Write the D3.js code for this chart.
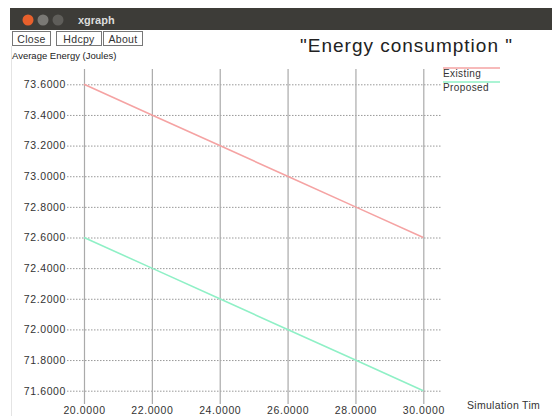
<!DOCTYPE html>
<html>
<head>
<meta charset="utf-8">
<script src="https://cdn.jsdelivr.net/npm/d3@7"></script>
<style>
  body { margin: 0; background: #fff; }
  svg { display: block; font-family: "Liberation Sans", Arial, sans-serif; }
</style>
</head>
<body>
<svg id="chart" width="552" height="416"></svg>
<script>
// data
const simTime = [20, 22, 24, 26, 28, 30];
const existing = [73.6, 73.4, 73.2, 73.0, 72.8, 72.6];
const proposed = [72.6, 72.4, 72.2, 72.0, 71.8, 71.6];
const yTicks = [73.6, 73.4, 73.2, 73.0, 72.8, 72.6, 72.4, 72.2, 72.0, 71.8, 71.6];
const seriesNames = ["Existing", "Proposed"];
const seriesColors = ["#f5a3a3", "#8ff0c6"];

const svg = d3.select("#chart");

// window chrome
svg.append("rect").attr("x", 10).attr("y", 8).attr("width", 542).attr("height", 22).attr("fill", "#3d3c38");
svg.append("circle").attr("cx", 28).attr("cy", 20).attr("r", 5.5).attr("fill", "#e8602c");
svg.append("circle").attr("cx", 43).attr("cy", 20).attr("r", 5.5).attr("fill", "#7a7975");
svg.append("circle").attr("cx", 58).attr("cy", 20).attr("r", 5.5).attr("fill", "#5f5e5a");
svg.append("text").attr("x", 78).attr("y", 24).attr("fill", "#dcdcdc")
  .style("font-size", "11px").style("font-weight", "bold").text("xgraph");
svg.append("line").attr("x1", 11.5).attr("x2", 11.5).attr("y1", 46).attr("y2", 416)
  .attr("stroke", "#e4e4e4");

const buttons = [["Close", 12, 38], ["Hdcpy", 56, 45], ["About", 103, 39]];
buttons.forEach(([t, bx, bw]) => {
  svg.append("rect").attr("x", bx + 0.5).attr("y", 31.5).attr("width", bw).attr("height", 14)
    .attr("fill", "#fff").attr("stroke", "#777");
  svg.append("text").attr("x", bx + bw / 2 + 0.5).attr("y", 42.5).attr("text-anchor", "middle")
    .attr("fill", "#333").style("font-size", "10.5px").style("letter-spacing", "0.3px").text(t);
});

svg.append("text").attr("x", 300).attr("y", 52).attr("fill", "#222")
  .style("font-size", "19px").style("letter-spacing", "1px").text("\"Energy consumption \"");
svg.append("text").attr("x", 12).attr("y", 59).attr("fill", "#222")
  .style("font-size", "9.5px").text("Average Energy (Joules)");

// scales
const x = d3.scaleLinear().domain([20, 30]).range([84, 423.3]);
const y = d3.scaleLinear().domain([71.6, 73.6]).range([390.7, 84.3]);
const gridTop = 69, gridBottom = 404, gridLeft = 67, gridRight = 442;

const yAxis = svg.append("g")
  .attr("transform", `translate(${gridLeft},0)`)
  .call(d3.axisLeft(y).tickValues(yTicks).tickFormat(d3.format(".4f"))
    .tickSize(-(gridRight - gridLeft)).tickPadding(1));
yAxis.select(".domain").remove();
yAxis.selectAll(".tick line").attr("stroke", "#999").attr("stroke-dasharray", "1.5,1.5");
yAxis.selectAll(".tick text").attr("fill", "#333")
  .style("font-size", "10.5px").style("letter-spacing", "0.6px")
  .style("font-family", "\"Liberation Sans\", Arial, sans-serif");

const xAxis = svg.append("g")
  .attr("transform", `translate(0,${gridBottom})`)
  .call(d3.axisBottom(x).tickValues(simTime).tickFormat(d3.format(".4f"))
    .tickSize(-(gridBottom - gridTop)).tickPadding(3));
xAxis.select(".domain").remove();
xAxis.selectAll(".tick line").attr("stroke", "#aaa").attr("stroke-width", 1.2);
xAxis.selectAll(".tick text").attr("fill", "#333")
  .style("font-size", "10.5px").style("letter-spacing", "0.6px")
  .style("font-family", "\"Liberation Sans\", Arial, sans-serif");

svg.append("text").attr("x", 467).attr("y", 409).attr("fill", "#333")
  .style("font-size", "10.5px").style("letter-spacing", "0.3px").text("Simulation Tim");

// series
const line = d3.line().x(d => x(d[0])).y(d => y(d[1]));
[existing, proposed].forEach((vals, i) => {
  svg.append("path")
    .datum(simTime.map((t, k) => [t, vals[k]]))
    .attr("d", line)
    .attr("fill", "none")
    .attr("stroke", seriesColors[i])
    .attr("stroke-width", 1.6);
});

// legend
seriesNames.forEach((name, i) => {
  const ly = 68 + i * 14;
  svg.append("line").attr("x1", 443).attr("x2", 500).attr("y1", ly).attr("y2", ly)
    .attr("stroke", seriesColors[i]).attr("stroke-width", 1.5);
  svg.append("text").attr("x", 443).attr("y", ly + 9).attr("fill", "#333")
    .style("font-size", "10px").style("letter-spacing", "0.4px").text(name);
});
</script>
</body>
</html>
